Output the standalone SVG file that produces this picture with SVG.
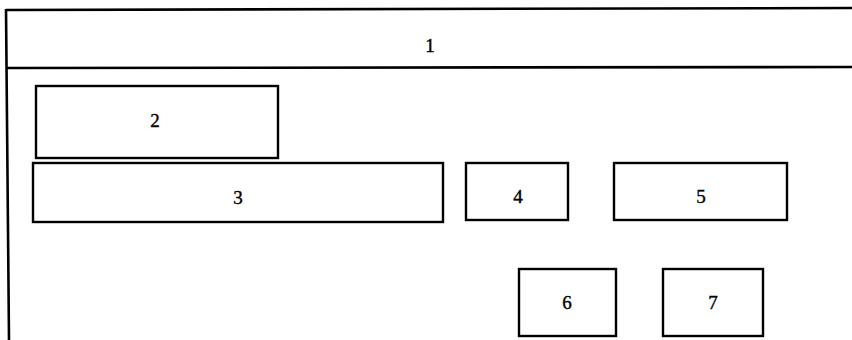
<svg xmlns="http://www.w3.org/2000/svg" width="852" height="340" viewBox="0 0 852 340">
<style>
.b{fill:#fff;stroke:#000;stroke-width:2.4}
.l{stroke:#000;stroke-width:2.6;fill:none}
.t{font-family:"Liberation Serif","Times New Roman",serif;font-size:19px;fill:#000;stroke:#000;stroke-width:0.4;text-anchor:middle}
</style>
<rect width="852" height="340" fill="#fff"/>
<g id="node1">
<path class="l" d="M6,10 L852,8 M7,68 L852,67 M6,9 L9,340"/>
<text class="t" x="430" y="52">1</text>
</g>
<g id="node2"><rect class="b" x="36" y="86" width="242" height="72"/><text class="t" x="155" y="127">2</text></g>
<g id="node3"><rect class="b" x="33" y="163" width="410" height="59"/><text class="t" x="238" y="204">3</text></g>
<g id="node4"><rect class="b" x="466" y="163" width="102" height="57"/><text class="t" x="518" y="203">4</text></g>
<g id="node5"><rect class="b" x="614" y="163" width="173" height="57"/><text class="t" x="701" y="203">5</text></g>
<g id="node6"><rect class="b" x="519" y="269" width="97" height="67"/><text class="t" x="567" y="309">6</text></g>
<g id="node7"><rect class="b" x="663" y="269" width="100" height="67"/><text class="t" x="713" y="309">7</text></g>
<g id="connectors"></g>
</svg>
